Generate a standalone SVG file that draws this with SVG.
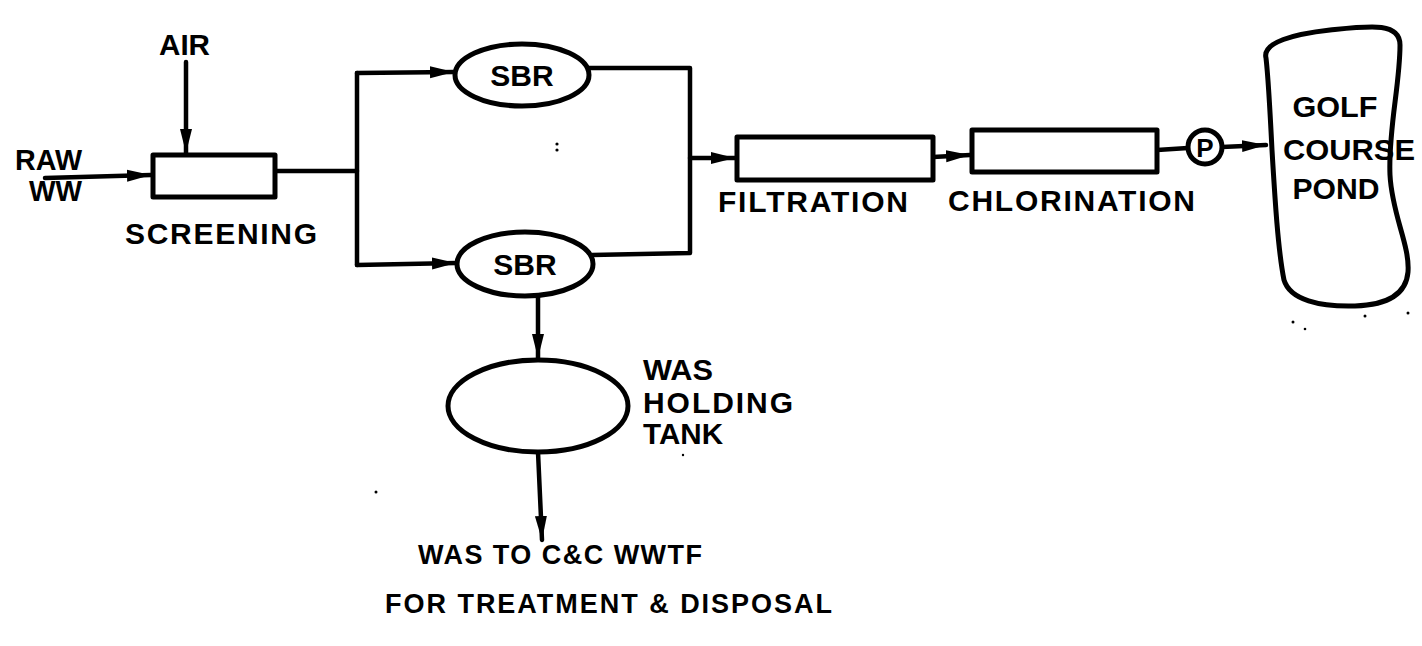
<svg xmlns="http://www.w3.org/2000/svg" width="1422" height="646" viewBox="0 0 1422 646">
<style>
.bg{fill:#fff}
.ln{fill:none;stroke:#000;stroke-width:4.5;stroke-linejoin:round;stroke-linecap:round}
.sh{fill:#fff;stroke:#000;stroke-width:5;stroke-linejoin:round}
.t{font-family:"Liberation Sans",Arial,Helvetica,sans-serif;font-size:30px;font-weight:bold;fill:#000}
.s{font-size:27px}
.dot{fill:#000}
</style>
<defs>
<marker id="ah" markerUnits="userSpaceOnUse" markerWidth="26" markerHeight="16" refX="24" refY="8" orient="auto">
<path d="M0,2 L24,8 L0,14 Z" fill="#000"/>
</marker>
</defs>
<rect class="bg" x="0" y="0" width="1422" height="646"/>
<g id="connectors">
<line class="ln" x1="186" y1="62" x2="186" y2="153" marker-end="url(#ah)"/>
<line class="ln" x1="45" y1="178" x2="151" y2="175" marker-end="url(#ah)"/>
<polyline class="ln" points="275,171 357,171"/>
<polyline class="ln" points="357,73 357,265"/>
<line class="ln" x1="357" y1="73" x2="454" y2="72" marker-end="url(#ah)"/>
<line class="ln" x1="357" y1="265" x2="456" y2="263" marker-end="url(#ah)"/>
<polyline class="ln" points="589,68 690,68 690,253 592,255"/>
<line class="ln" x1="690" y1="158" x2="735" y2="158" marker-end="url(#ah)"/>
<line class="ln" x1="933" y1="157" x2="970" y2="155" marker-end="url(#ah)"/>
<line class="ln" x1="1157" y1="150" x2="1188" y2="148"/>
<line class="ln" x1="1222" y1="147" x2="1266" y2="145" marker-end="url(#ah)"/>
<line class="ln" x1="538" y1="296" x2="538" y2="358" marker-end="url(#ah)"/>
<line class="ln" x1="538" y1="452" x2="542" y2="540" marker-end="url(#ah)"/>
</g>
<g id="air"><text class="t" x="159" y="55" textLength="51" lengthAdjust="spacingAndGlyphs">AIR</text></g>
<g id="raw-ww"><text class="t" x="15" y="170" textLength="67" lengthAdjust="spacingAndGlyphs">RAW</text><text class="t" x="29" y="201" textLength="53" lengthAdjust="spacingAndGlyphs">WW</text></g>
<g id="screening">
<rect class="sh" x="153" y="155" width="122" height="42"/>
<text class="t" x="125" y="244" textLength="192" lengthAdjust="spacing">SCREENING</text>
</g>
<g id="sbr-top">
<ellipse class="sh" cx="522" cy="75" rx="67" ry="31"/>
<text class="t" x="522" y="86" text-anchor="middle">SBR</text>
</g>
<g id="sbr-bottom">
<ellipse class="sh" cx="525" cy="264" rx="68" ry="32"/>
<text class="t" x="525" y="275" text-anchor="middle">SBR</text>
</g>
<g id="filtration">
<rect class="sh" x="737" y="137" width="196" height="43"/>
<text class="t" x="718" y="212" textLength="190" lengthAdjust="spacing">FILTRATION</text>
</g>
<g id="chlorination">
<rect class="sh" x="972" y="130" width="185" height="42"/>
<text class="t" x="948" y="211" textLength="247" lengthAdjust="spacing">CHLORINATION</text>
</g>
<g id="pump">
<circle class="sh" cx="1205" cy="147" r="17"/>
<text class="t" x="1205" y="157" text-anchor="middle" style="font-size:26px">P</text>
</g>
<g id="pond">
<path class="sh" d="M1266,58 C1262,42 1295,34 1330,30 C1370,26 1400,22 1400,45 C1400,85 1388,130 1390,175 C1392,215 1410,245 1408,272 C1406,296 1385,305 1355,306 C1320,307 1290,300 1284,280 C1278,250 1275,200 1272,150 C1270,110 1268,75 1266,58 Z"/>
<text class="t" x="1335" y="117" text-anchor="middle" textLength="85" lengthAdjust="spacingAndGlyphs">GOLF</text>
<text class="t" x="1349" y="160" text-anchor="middle" textLength="132" lengthAdjust="spacingAndGlyphs">COURSE</text>
<text class="t" x="1336" y="199" text-anchor="middle" textLength="87" lengthAdjust="spacingAndGlyphs">POND</text>
</g>
<g id="was-tank">
<ellipse class="sh" cx="538" cy="406" rx="90" ry="46"/>
<text class="t" x="643" y="380" textLength="70" lengthAdjust="spacingAndGlyphs">WAS</text>
<text class="t" x="643" y="413" textLength="150" lengthAdjust="spacing">HOLDING</text>
<text class="t" x="643" y="444" textLength="80" lengthAdjust="spacingAndGlyphs">TANK</text>
</g>
<g id="was-out">
<text class="t s" x="418" y="564" textLength="284" lengthAdjust="spacing">WAS TO C&amp;C WWTF</text>
<text class="t s" x="385" y="613" textLength="447" lengthAdjust="spacing">FOR TREATMENT &amp; DISPOSAL</text>
</g>
<g id="specks">
<circle class="dot" cx="557" cy="144" r="1.6"/>
<circle class="dot" cx="557" cy="150" r="1.6"/>
<circle class="dot" cx="376" cy="492" r="1.5"/>
<circle class="dot" cx="683" cy="455" r="1.2"/>
<circle class="dot" cx="1293" cy="322" r="1.5"/>
<circle class="dot" cx="1305" cy="329" r="1.3"/>
<circle class="dot" cx="1365" cy="316" r="1.5"/>
<circle class="dot" cx="1408" cy="313" r="1.5"/>
</g>
</svg>
